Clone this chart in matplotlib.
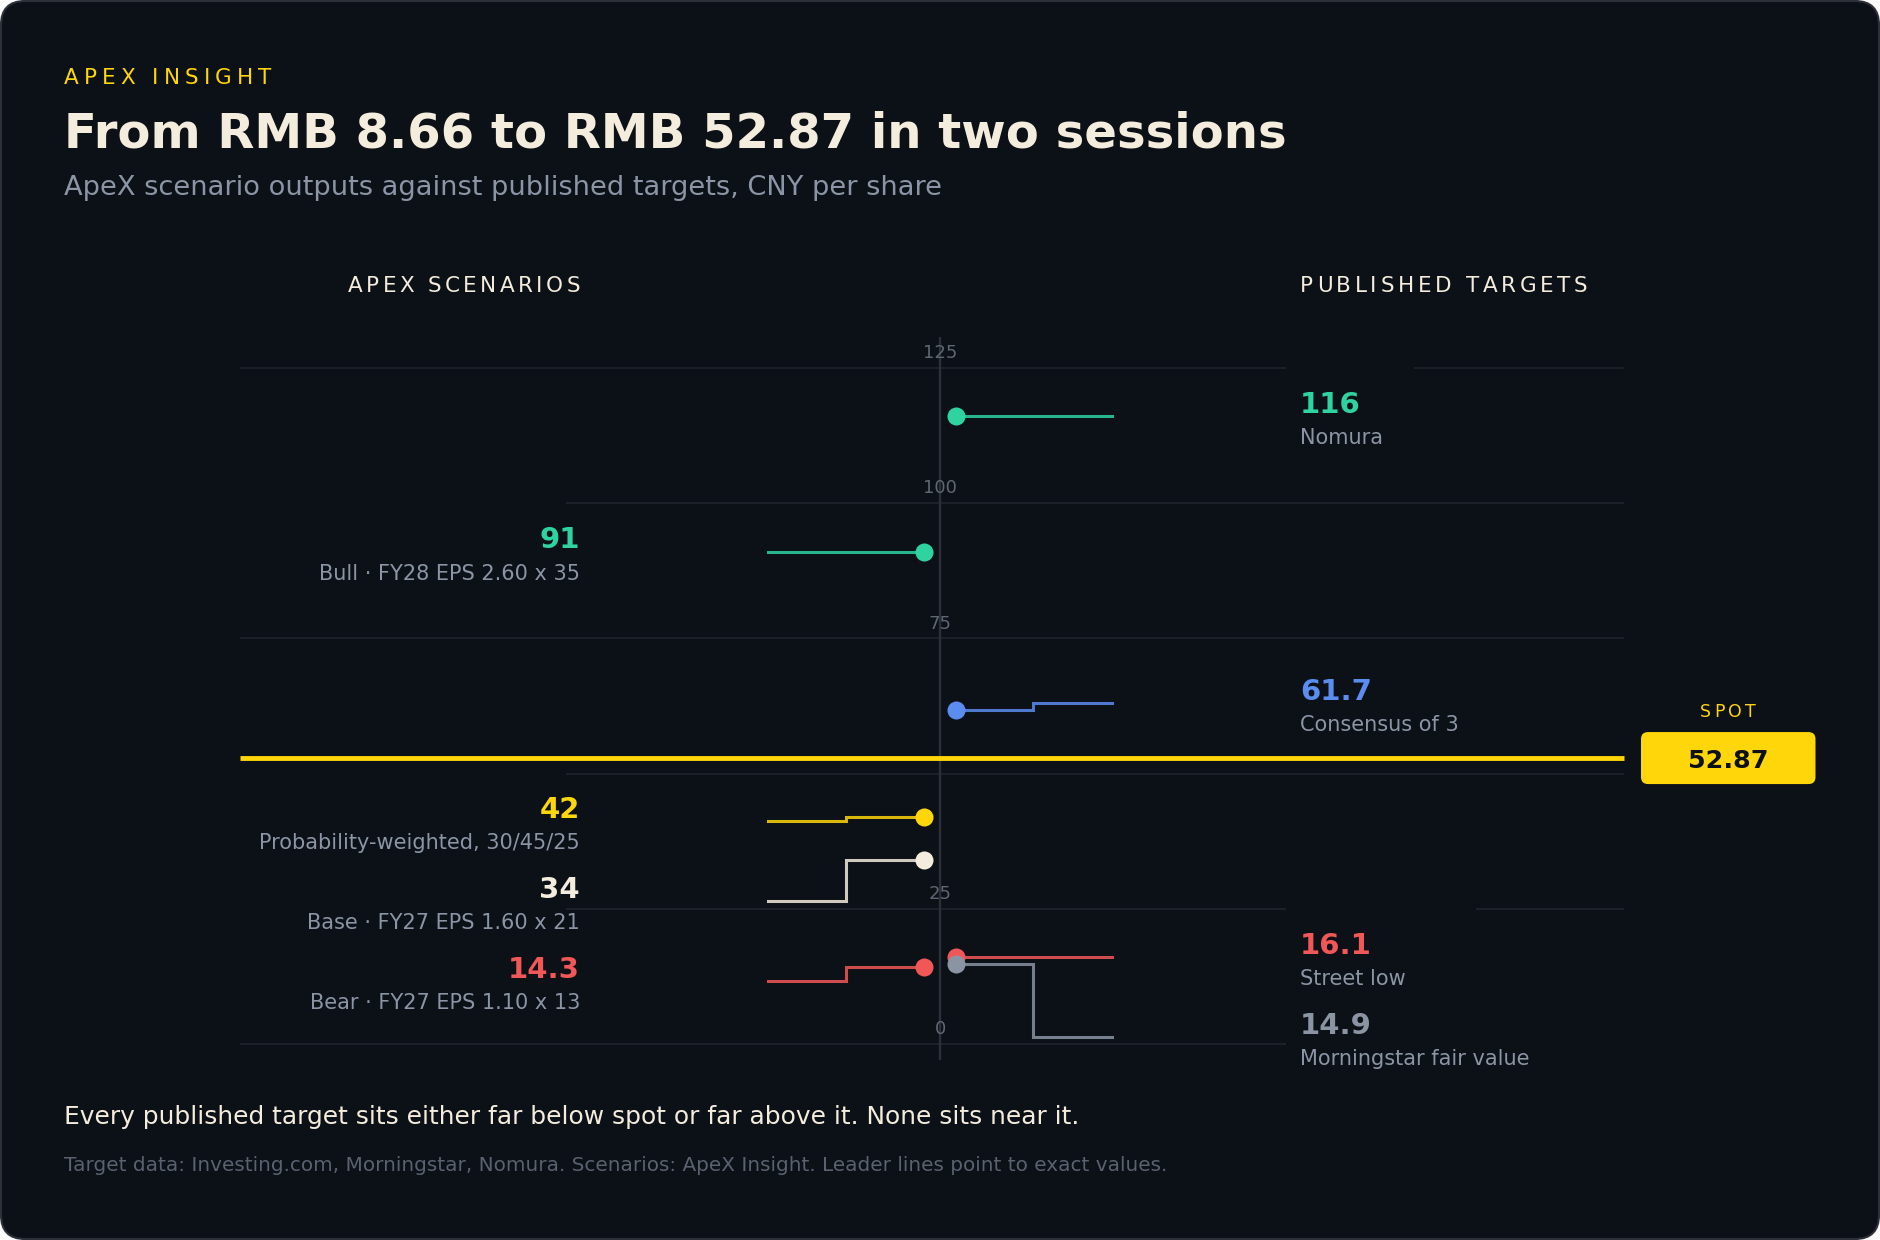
import matplotlib
matplotlib.use("Agg")
import matplotlib.pyplot as plt
from matplotlib.patches import FancyBboxPatch, Rectangle
from matplotlib.transforms import IdentityTransform
from matplotlib.font_manager import FontProperties, findfont
from matplotlib.ft2font import FT2Font

# data
spot = 52.87
y_ticks = [0, 25, 50, 75, 100, 125]

scenario_values = [91, 42, 34, 14.3]
scenario_text = ["91", "42", "34", "14.3"]
scenario_names = ["Bull · FY28 EPS 2.60 x 35", "Probability-weighted, 30/45/25",
                  "Base · FY27 EPS 1.60 x 21", "Bear · FY27 EPS 1.10 x 13"]

target_values = [116, 61.7, 16.1, 14.9]
target_text = ["116", "61.7", "16.1", "14.9"]
target_names = ["Nomura", "Consensus of 3", "Street low", "Morningstar fair value"]

# colours
bg = "#0c1017"
grid_c = "#20252d"
axis_c = "#2b3039"
cream = "#f4ecdc"
muted = "#8b95a5"
tick_c = "#5f6772"
green = "#2ed3a0"
blue = "#5b8cf0"
yellow = "#ffd60a"
red = "#f25757"
gray = "#8a94a3"

scenario_colors = [green, yellow, cream, red]
target_colors = [green, blue, red, gray]

W, H = 1880, 1240
fig = plt.figure(figsize=(W / 100, H / 100), dpi=100, facecolor="white")

panel = FancyBboxPatch((1, 1), W - 2, H - 2, boxstyle="round,pad=0,rounding_size=24",
                       transform=IdentityTransform(), fc=bg, ec="#2b3039", lw=1.5, zorder=0)
fig.add_artist(panel)


def spaced(x, y, s, size, color, spacing, ha="left", weight="normal"):
    # letter-spaced text, x/y in pixels from top-left, y is the baseline
    fp = FontProperties(family="DejaVu Sans", size=size, weight=weight)
    font = FT2Font(findfont(fp))
    font.set_size(size, 100)
    advs = [font.load_char(ord(c)).linearHoriAdvance / 65536 for c in s]
    total = sum(advs) + spacing * (len(s) - 1)
    if ha == "right":
        x = x - total
    elif ha == "center":
        x = x - total / 2
    for c, a in zip(s, advs):
        fig.text(x / W, 1 - y / H, c, fontproperties=fp, color=color, va="baseline", ha="left",
                 zorder=9)
        x += a + spacing


def ftext(x, y, s, **kw):
    fig.text(x / W, 1 - y / H, s, va="baseline", **kw)


# header
spaced(64, 84, "APEX INSIGHT", 15.5, yellow, 5.1)
ftext(64, 148, "From RMB 8.66 to RMB 52.87 in two sessions", fontsize=34.7, weight="bold", color=cream)
ftext(64, 195, "ApeX scenario outputs against published targets, CNY per share", fontsize=19.6, color=muted)
spaced(580, 292, "APEX SCENARIOS", 15.5, cream, 3.4, ha="right")
spaced(1300, 292, "PUBLISHED TARGETS", 15.5, cream, 3.7)

# footer
ftext(64, 1124, "Every published target sits either far below spot or far above it. None sits near it.",
      fontsize=17.9, color=cream)
ftext(64, 1171, "Target data: Investing.com, Morningstar, Nomura. Scenarios: ApeX Insight. "
      "Leader lines point to exact values.", fontsize=14.4, color="#5a6270")

# chart axes: x in pixels, y in CNY
px_per_unit = 135.3 / 25
zero_px = 1044.2
top_px, bot_px = 337, 1060
ax = fig.add_axes([0, 1 - bot_px / H, 1, (bot_px - top_px) / H])
ax.set_xlim(0, W)
ax.set_ylim((zero_px - bot_px) / px_per_unit, (zero_px - top_px) / px_per_unit)
ax.axis("off")
PX = 1 / px_per_unit

x0, x1 = 240, 1624
axis_x = 940
ax.hlines(y_ticks, x0, x1, color=grid_c, lw=1.2, zorder=1)
ax.vlines(axis_x, *ax.get_ylim(), color=axis_c, lw=1.7, zorder=1.2)
for t in y_ticks:
    if abs(t - spot) < 5:
        continue  # label would sit on the spot line
    ax.annotate(str(t), (axis_x, t), xytext=(0, 7), textcoords="offset points",
                ha="center", va="baseline", fontsize=13, color=tick_c, zorder=2)

ax.hlines(spot, x0, x1, color=yellow, lw=3.5, zorder=6)


def place(values):
    # keep labels off the spot line and at least 80 px apart
    gap = 80 * PX
    order = sorted(range(len(values)), key=lambda i: -values[i])
    pos = {}
    prev = None
    for i in order:
        v = values[i]
        p = max(v, spot + 54.7 * PX) if v > spot else min(v, spot - 63.3 * PX)
        if prev is not None and prev - p < gap:
            p = prev - gap
        pos[i] = p
        prev = p
    return [pos[i] for i in range(len(values))]


def side(values, texts, names, colors, left):
    anchors = place(values)
    for v, t, n, c, a in zip(values, texts, names, colors, anchors):
        if left:
            xs = [768, 846, 846, 924]
            ys = [a, a, v, v]
            dot_x, lab_x, ha = 924, 580, "right"
            mx = 566 - (35 + 15.5 * len(n))
            mw = 566 - mx
        else:
            xs = [956, 1033, 1033, 1112]
            ys = [v, v, a, a]
            dot_x, lab_x, ha = 956, 1300, "left"
            mx = 1286
            mw = min(35 + 15.5 * len(n), x1 - mx)
        ax.add_patch(Rectangle((mx, a - 40 * PX), mw, 96 * PX, fc=bg, ec="none", zorder=1.5))
        ax.plot(xs, ys, color=c, lw=2.2, alpha=0.85, solid_joinstyle="miter", zorder=3)
        ax.plot([dot_x], [v], "o", ms=13, color=c, mec="none", zorder=4)
        ax.annotate(t, (lab_x, a), xytext=(0, 2.5), textcoords="offset points", ha=ha,
                    va="baseline", fontsize=21, weight="bold", color=c, zorder=5)
        ax.annotate(n, (lab_x, a), xytext=(0, -20.2), textcoords="offset points", ha=ha,
                    va="baseline", fontsize=15, color=muted, zorder=5)


side(scenario_values, scenario_text, scenario_names, scenario_colors, True)
side(target_values, target_text, target_names, target_colors, False)

# spot badge
_, yd = ax.transData.transform((0, spot))
badge = FancyBboxPatch((1641, yd - 26), 174.5, 52, boxstyle="round,pad=0,rounding_size=7",
                       transform=IdentityTransform(), fc=yellow, ec="none", zorder=7)
fig.add_artist(badge)
fig.text(1728 / W, yd / H, "52.87", ha="center", va="center_baseline", fontsize=18.3,
         weight="bold", color=bg, zorder=8)
spaced(1728, H - yd - 41, "SPOT", 12.5, yellow, 3.4, ha="center")

fig.savefig("out.png", dpi=100, facecolor="white")
